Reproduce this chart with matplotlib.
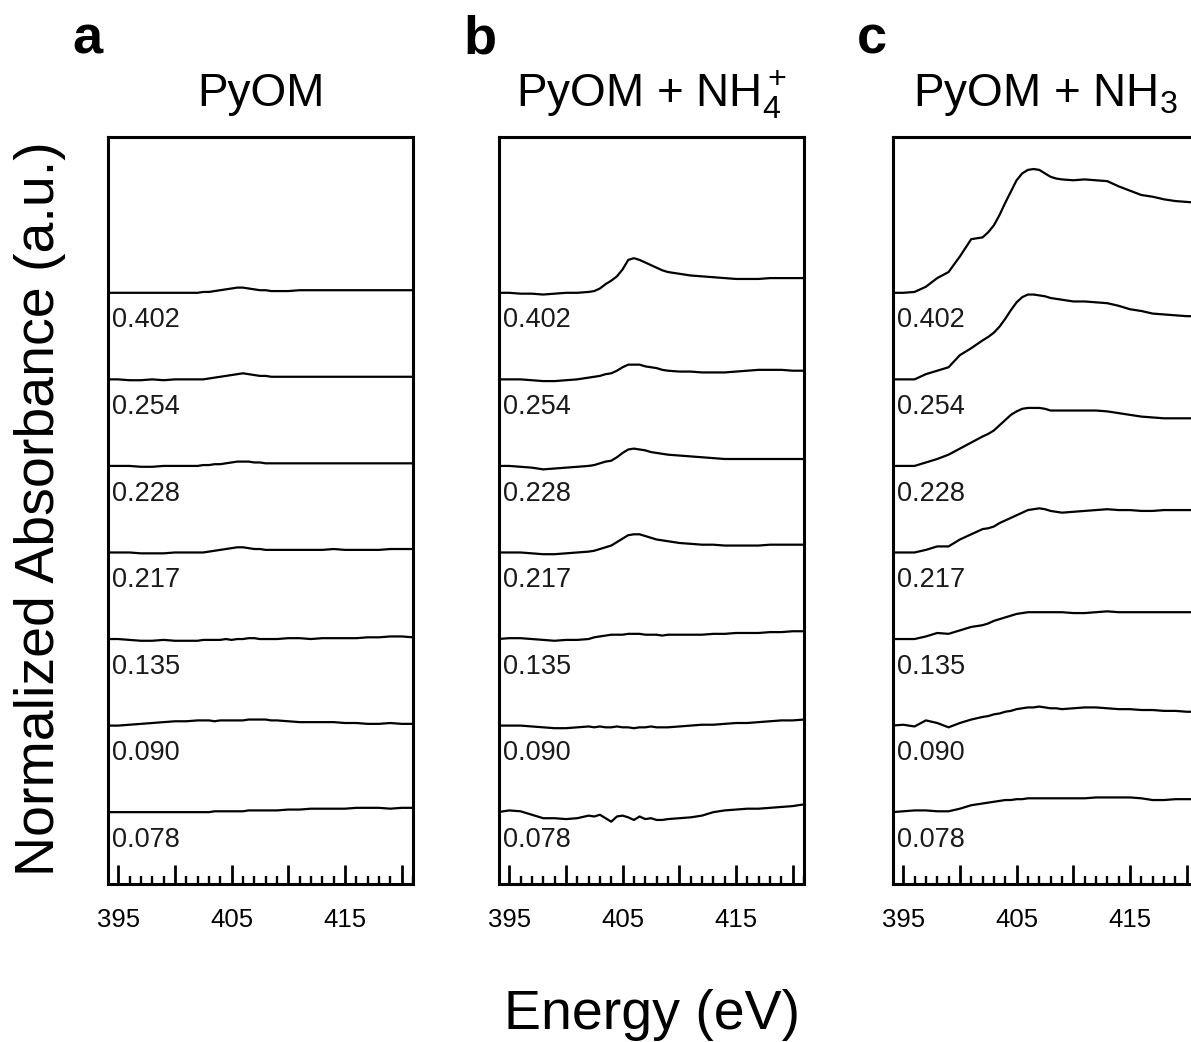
import matplotlib
matplotlib.use("Agg")
import matplotlib.pyplot as plt
from matplotlib.ticker import FixedLocator, FixedFormatter, MultipleLocator
import matplotlib.transforms as mtransforms

plt.rcParams['font.family'] = ['Liberation Sans', 'DejaVu Sans']
plt.rcParams['mathtext.fontset'] = 'custom'
plt.rcParams['mathtext.rm'] = 'Liberation Sans'
plt.rcParams['mathtext.it'] = 'Liberation Sans:italic'
plt.rcParams['mathtext.bf'] = 'Liberation Sans:bold'

# ---------------- data ----------------
energy = [394, 395, 396, 397, 398, 399, 400, 401, 402,
          402.5, 403, 403.5, 404, 404.5, 405, 405.5, 406, 406.5, 407, 407.5, 408, 408.5,
          409, 410, 411, 412, 413, 414, 415, 416, 417, 418, 419, 420, 421]

row_labels = ["0.402", "0.254", "0.228", "0.217", "0.135", "0.090", "0.078"]
panel_letters = ["a", "b", "c"]
panel_titles = ["PyOM", "PyOM + NH$_4^+$", "PyOM + NH$_3$"]
xtick_values = [395, 400, 405, 410, 415, 420]
xtick_labels = ["395", "", "405", "", "415", ""]

spectra_a = [
    [0, 0, 0, 0, 0, 0, 0, 0, 0,
     0.01, 0.01, 0.02, 0.03, 0.04, 0.05, 0.06, 0.06, 0.05, 0.04, 0.03, 0.03, 0.02,
     0.02, 0.02, 0.03, 0.03, 0.03, 0.03, 0.03, 0.03, 0.03, 0.03, 0.03, 0.03, 0.03],
    [0, 0, -0.01, -0.01, 0, -0.01, 0, 0, 0,
     0.0, 0.01, 0.02, 0.03, 0.04, 0.05, 0.06, 0.07, 0.06, 0.05, 0.04, 0.04, 0.03,
     0.03, 0.03, 0.03, 0.03, 0.03, 0.03, 0.03, 0.03, 0.03, 0.03, 0.03, 0.03, 0.03],
    [0, 0, 0, -0.01, -0.01, 0, 0, 0, 0,
     0.01, 0.01, 0.02, 0.02, 0.03, 0.04, 0.05, 0.05, 0.05, 0.04, 0.04, 0.03, 0.03,
     0.03, 0.03, 0.03, 0.03, 0.03, 0.03, 0.03, 0.03, 0.03, 0.03, 0.03, 0.03, 0.03],
    [0, 0, 0, -0.01, -0.01, -0.01, 0, 0, 0,
     0.0, 0.01, 0.02, 0.03, 0.04, 0.05, 0.06, 0.06, 0.05, 0.04, 0.04, 0.03, 0.03,
     0.03, 0.03, 0.03, 0.03, 0.03, 0.04, 0.03, 0.03, 0.03, 0.03, 0.04, 0.04, 0.04],
    [0, 0, -0.01, -0.02, -0.02, -0.01, -0.02, -0.02, -0.02,
     -0.01, -0.01, -0.01, -0.01, 0.0, -0.01, 0.0, 0.0, 0.01, 0.01, 0.0, 0.0, 0.0,
     0.0, 0.01, 0.01, 0.0, 0.01, 0.01, 0.01, 0.01, 0.02, 0.02, 0.03, 0.03, 0.02],
    [0, 0, 0.01, 0.02, 0.03, 0.04, 0.05, 0.05, 0.06,
     0.06, 0.06, 0.05, 0.06, 0.06, 0.06, 0.06, 0.06, 0.07, 0.07, 0.07, 0.07, 0.06,
     0.06, 0.05, 0.04, 0.04, 0.04, 0.04, 0.03, 0.03, 0.02, 0.02, 0.03, 0.02, 0.02],
    [0, 0, 0, 0, 0, 0, 0, 0, 0,
     0.0, 0.0, 0.01, 0.01, 0.01, 0.01, 0.01, 0.01, 0.02, 0.02, 0.02, 0.02, 0.02,
     0.02, 0.03, 0.03, 0.04, 0.04, 0.04, 0.04, 0.05, 0.05, 0.05, 0.04, 0.05, 0.05],
]

spectra_b = [
    [0.00, 0.00, -0.01, -0.01, -0.02, -0.01, 0.00, 0.00, 0.01,
     0.02, 0.05, 0.10, 0.14, 0.19, 0.27, 0.38, 0.40, 0.38, 0.35, 0.32, 0.29, 0.26,
     0.24, 0.22, 0.20, 0.19, 0.18, 0.17, 0.16, 0.16, 0.16, 0.17, 0.17, 0.17, 0.17],
    [0, 0, 0, -0.01, -0.02, -0.02, -0.01, 0.0, 0.02,
     0.03, 0.04, 0.06, 0.07, 0.10, 0.14, 0.17, 0.17, 0.17, 0.15, 0.14, 0.13, 0.11,
     0.10, 0.09, 0.09, 0.08, 0.08, 0.08, 0.09, 0.10, 0.11, 0.11, 0.11, 0.10, 0.10],
    [0, 0, -0.01, -0.02, -0.04, -0.03, -0.02, -0.01, 0.0,
     0.01, 0.03, 0.05, 0.06, 0.10, 0.15, 0.19, 0.20, 0.19, 0.18, 0.16, 0.15, 0.14,
     0.13, 0.12, 0.11, 0.10, 0.09, 0.08, 0.08, 0.08, 0.08, 0.08, 0.08, 0.08, 0.08],
    [0, 0, 0, -0.01, -0.02, -0.02, -0.01, 0.0, 0.01,
     0.02, 0.04, 0.06, 0.08, 0.12, 0.16, 0.20, 0.21, 0.21, 0.19, 0.17, 0.15, 0.14,
     0.13, 0.11, 0.10, 0.09, 0.09, 0.08, 0.08, 0.08, 0.08, 0.09, 0.09, 0.09, 0.09],
    [0, 0.01, 0.01, 0.0, -0.01, -0.02, -0.01, -0.01, 0.0,
     0.02, 0.03, 0.04, 0.05, 0.05, 0.05, 0.06, 0.06, 0.06, 0.05, 0.05, 0.05, 0.04,
     0.05, 0.05, 0.05, 0.05, 0.06, 0.06, 0.07, 0.07, 0.07, 0.08, 0.08, 0.09, 0.09],
    [0, 0, 0, -0.01, -0.02, -0.03, -0.03, -0.02, -0.01,
     -0.02, -0.01, -0.02, -0.02, -0.01, -0.02, -0.02, -0.03, -0.02, -0.02, -0.01, -0.02, -0.02,
     -0.02, -0.01, 0.0, 0.01, 0.01, 0.02, 0.03, 0.03, 0.04, 0.05, 0.06, 0.06, 0.07],
    [0, 0.02, 0.01, -0.03, -0.07, -0.07, -0.08, -0.07, -0.04,
     -0.05, -0.03, -0.07, -0.11, -0.05, -0.04, -0.06, -0.09, -0.05, -0.08, -0.07, -0.09, -0.09,
     -0.08, -0.07, -0.06, -0.04, 0.0, 0.02, 0.03, 0.04, 0.04, 0.05, 0.06, 0.07, 0.09],
]

spectra_c = [
    [0, 0, 0.01, 0.07, 0.17, 0.24, 0.42, 0.62, 0.64,
     0.70, 0.78, 0.90, 1.04, 1.17, 1.30, 1.38, 1.42, 1.43, 1.42, 1.38, 1.34, 1.32,
     1.31, 1.30, 1.31, 1.30, 1.29, 1.23, 1.18, 1.13, 1.11, 1.08, 1.06, 1.05, 1.04],
    [0, 0, 0, 0.06, 0.10, 0.14, 0.28, 0.36, 0.45,
     0.49, 0.54, 0.61, 0.70, 0.80, 0.89, 0.95, 0.98, 0.98, 0.97, 0.96, 0.94, 0.93,
     0.92, 0.90, 0.90, 0.89, 0.88, 0.85, 0.81, 0.79, 0.76, 0.75, 0.74, 0.73, 0.73],
    [0, 0, 0, 0.04, 0.08, 0.13, 0.20, 0.27, 0.34,
     0.37, 0.41, 0.47, 0.53, 0.59, 0.63, 0.66, 0.67, 0.67, 0.67, 0.66, 0.64, 0.64,
     0.64, 0.64, 0.64, 0.64, 0.63, 0.61, 0.59, 0.57, 0.56, 0.55, 0.55, 0.55, 0.55],
    [0, 0, 0, 0.03, 0.07, 0.07, 0.15, 0.21, 0.27,
     0.28, 0.30, 0.34, 0.37, 0.40, 0.43, 0.46, 0.49, 0.50, 0.51, 0.50, 0.48, 0.47,
     0.46, 0.47, 0.48, 0.49, 0.50, 0.49, 0.49, 0.48, 0.48, 0.49, 0.49, 0.49, 0.49],
    [0, 0, 0, 0.03, 0.07, 0.06, 0.10, 0.14, 0.16,
     0.18, 0.21, 0.23, 0.25, 0.27, 0.29, 0.30, 0.31, 0.31, 0.31, 0.31, 0.31, 0.31,
     0.31, 0.30, 0.30, 0.31, 0.32, 0.31, 0.31, 0.31, 0.31, 0.31, 0.31, 0.31, 0.31],
    [0, 0.01, -0.01, 0.06, 0.03, -0.02, 0.03, 0.07, 0.10,
     0.11, 0.13, 0.14, 0.16, 0.17, 0.19, 0.20, 0.21, 0.21, 0.22, 0.21, 0.20, 0.20,
     0.19, 0.20, 0.21, 0.21, 0.20, 0.19, 0.19, 0.18, 0.18, 0.17, 0.17, 0.16, 0.16],
    [0, 0.01, 0.02, 0.02, 0.01, 0.01, 0.04, 0.08, 0.10,
     0.11, 0.12, 0.13, 0.14, 0.14, 0.15, 0.15, 0.16, 0.16, 0.16, 0.16, 0.16, 0.16,
     0.16, 0.16, 0.16, 0.17, 0.17, 0.17, 0.17, 0.16, 0.14, 0.14, 0.15, 0.15, 0.15],
]

all_spectra = [spectra_a, spectra_b, spectra_c]

# ---------------- figure ----------------
W, H = 1191, 1042
fig = plt.figure(figsize=(W / 100, H / 100), dpi=100)

axes_left_px = [108, 499, 893]
ax_w_px = 305
ax_top_px, ax_bot_px = 137, 884
letter_x_px = [72, 463, 857]

for p in range(3):
    left = axes_left_px[p] / W
    ax = fig.add_axes([left, 1 - ax_bot_px / H, ax_w_px / W, (ax_bot_px - ax_top_px) / H])
    n = len(row_labels)
    for i, (lab, spec) in enumerate(zip(row_labels, all_spectra[p])):
        off = n - 1 - i
        ax.plot(energy, [v + off for v in spec], color='black', lw=1.6, solid_joinstyle='round')
        tr = mtransforms.blended_transform_factory(ax.transAxes, ax.transData)
        ax.text(0.012, off - 0.40, lab, transform=tr, fontsize=19.5,
                ha='left', va='baseline', color='#1a1a1a')
    ax.set_xlim(394.1, 421.0)
    ax.set_ylim(-0.83, 7.80)
    ax.set_yticks([])
    ax.xaxis.set_major_locator(FixedLocator(xtick_values))
    ax.xaxis.set_major_formatter(FixedFormatter(xtick_labels))
    ax.xaxis.set_minor_locator(MultipleLocator(1))
    ax.tick_params(axis='x', which='major', direction='in', length=14, width=2.0,
                   labelsize=18.5, pad=17, top=False)
    ax.tick_params(axis='x', which='minor', direction='in', length=5.5, width=1.7, top=False)
    for s in ax.spines.values():
        s.set_linewidth(2.2)
    ax.set_title(panel_titles[p], fontsize=33, pad=22)
    fig.text(letter_x_px[p] / W, 1 - 53 / H, panel_letters[p], fontsize=39,
             fontweight='bold', ha='left', va='baseline')

fig.text(40 / W, 1 - 509 / H, "Normalized Absorbance (a.u.)", rotation=90,
         fontsize=40, ha='center', va='center')
fig.text(652 / W, 1 - 1029 / H, "Energy (eV)", fontsize=40, ha='center', va='baseline')

fig.savefig("out.png", dpi=100)
